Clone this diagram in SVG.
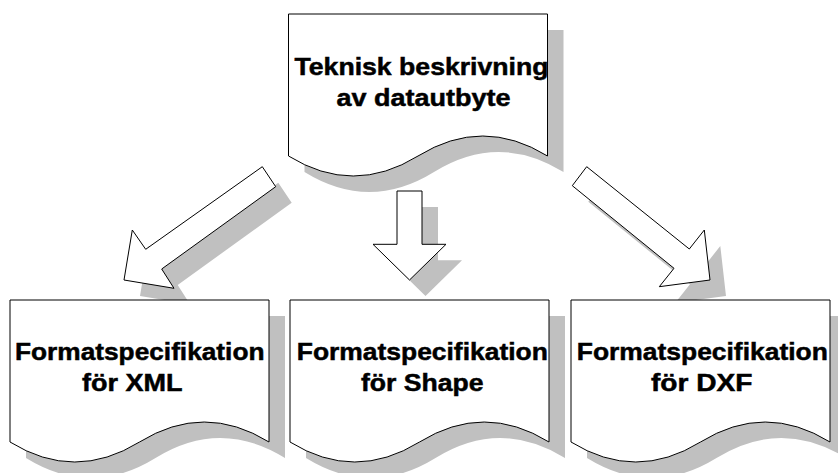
<svg xmlns="http://www.w3.org/2000/svg" xmlns:xlink="http://www.w3.org/1999/xlink" width="838" height="473" viewBox="0 0 838 473">
<style>
.doc{fill:#ffffff;stroke:#000000;stroke-width:1}
.shadow{fill:#c0c0c0;stroke:none}
.arrow{fill:#ffffff;stroke:#000000;stroke-width:1;stroke-linejoin:miter}
.lbl{font-family:"Liberation Sans",Arial,Helvetica,sans-serif;font-weight:bold;font-size:24.5px;fill:#000000;stroke:#000000;stroke-width:0.5}
</style>
<defs>
<path id="docShape" d="M0,0 H259 V142 Q194.25,102 129.5,142 T0,142 Z"/>
<polygon id="arrL" points="262.3,166.7 275.7,186.7 161.7,269 174,288.3 124,280 132.3,230 145.7,249.3"/>
<polygon id="arrM" points="397,191 422,191 422,244.3 446,244.3 409.5,280 373,244.3 397,244.3"/>
<polygon id="arrR" points="586.7,166.7 572.3,185.7 674,268.3 659.3,286.7 710,280 704.3,230 689.3,249"/>
</defs>
<rect width="838" height="473" fill="#ffffff"/>
<g id="node-teknisk">
<use xlink:href="#docShape" href="#docShape" class="shadow" transform="translate(304.5,30)"/>
<use xlink:href="#docShape" href="#docShape" class="doc" transform="translate(288.5,14)"/>
<text class="lbl" x="294.5" y="74.5" textLength="254" lengthAdjust="spacingAndGlyphs">Teknisk beskrivning</text>
<text class="lbl" x="336.5" y="106" textLength="174" lengthAdjust="spacingAndGlyphs">av datautbyte</text>
</g>
<g id="connectors">
<use xlink:href="#arrL" href="#arrL" class="shadow" transform="translate(16,16)"/>
<use xlink:href="#arrM" href="#arrM" class="shadow" transform="translate(16,16)"/>
<use xlink:href="#arrR" href="#arrR" class="shadow" transform="translate(16,16)"/>
<use xlink:href="#arrL" href="#arrL" class="arrow"/>
<use xlink:href="#arrM" href="#arrM" class="arrow"/>
<use xlink:href="#arrR" href="#arrR" class="arrow"/>
</g>
<g id="node-xml">
<use xlink:href="#docShape" href="#docShape" class="shadow" transform="translate(26,316)"/>
<use xlink:href="#docShape" href="#docShape" class="doc" transform="translate(10,300)"/>
<text class="lbl" x="15" y="359.5" textLength="249.5" lengthAdjust="spacingAndGlyphs">Formatspecifikation</text>
<text class="lbl" x="82" y="391" textLength="100.5" lengthAdjust="spacingAndGlyphs">för XML</text>
</g>
<g id="node-shape">
<use xlink:href="#docShape" href="#docShape" class="shadow" transform="translate(306,316)"/>
<use xlink:href="#docShape" href="#docShape" class="doc" transform="translate(290,300)"/>
<text class="lbl" x="296.8" y="359.5" textLength="251" lengthAdjust="spacingAndGlyphs">Formatspecifikation</text>
<text class="lbl" x="361" y="391" textLength="122.5" lengthAdjust="spacingAndGlyphs">för Shape</text>
</g>
<g id="node-dxf">
<use xlink:href="#docShape" href="#docShape" class="shadow" transform="translate(587,316)"/>
<use xlink:href="#docShape" href="#docShape" class="doc" transform="translate(571,300)"/>
<text class="lbl" x="576.8" y="359.5" textLength="251" lengthAdjust="spacingAndGlyphs">Formatspecifikation</text>
<text class="lbl" x="651" y="391" textLength="101.5" lengthAdjust="spacingAndGlyphs">för DXF</text>
</g>
</svg>
